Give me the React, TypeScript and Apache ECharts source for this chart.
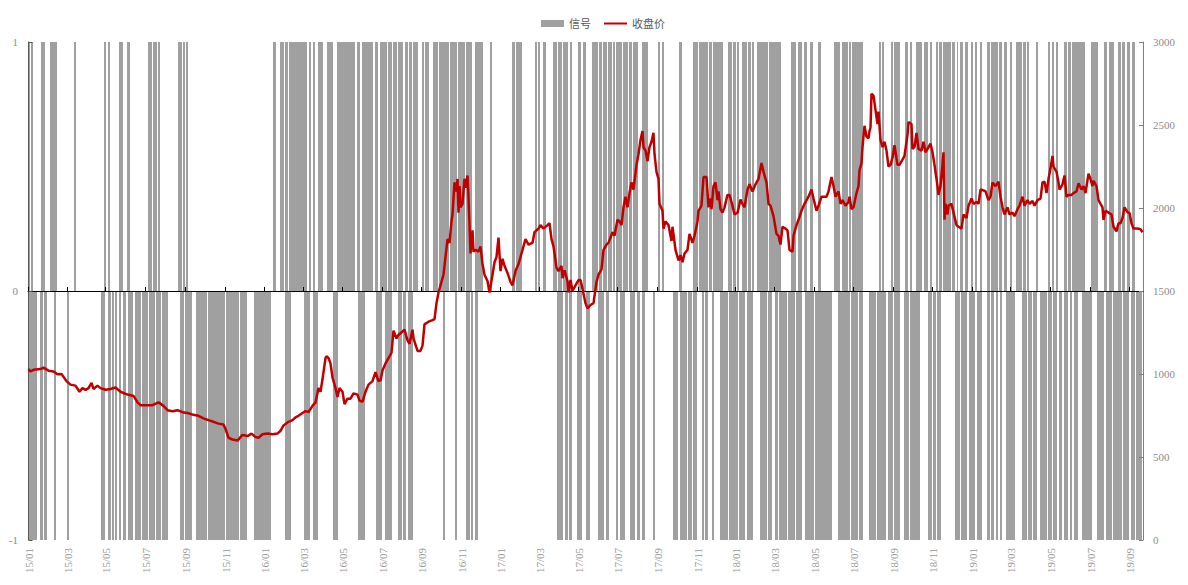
import React, { useEffect, useRef } from "react";
import * as echarts from "echarts";

// ---- data ----
const N_DAYS = 1115; // trading-day index 0..1114 (2015-01 .. 2019-09)

const tickLabels = ["15/01","15/03","15/05","15/07","15/09","15/11","16/01","16/03","16/05","16/07","16/09","16/11","17/01","17/03","17/05","17/07","17/09","17/11","18/01","18/03","18/05","18/07","18/09","18/11","19/01","19/03","19/05","19/07","19/09"];
const tickDays = [0,39,77,117,157,197,236,275,314,354,393,433,472,511,550,589,629,669,707,746,786,825,865,904,944,982,1022,1062,1101];

// signal = +1 runs [startDay, endDay)
const signalUpRuns: number[][] = [[0,2],[3,5],[13,17],[22,29],[46,48],[76,78],[80,82],[91,95],[99,102],[120,124],[125,129],[130,132],[150,154],[155,157],[158,160],[245,248],[252,256],[257,260],[261,279],[281,283],[285,287],[290,295],[299,305],[309,327],[329,332],[334,345],[347,350],[352,359],[360,364],[365,369],[370,375],[377,380],[381,384],[385,390],[394,396],[397,401],[405,410],[411,421],[422,429],[430,437],[438,444],[447,455],[462,464],[484,487],[488,494],[507,509],[510,512],[515,518],[525,529],[530,534],[535,540],[542,544],[550,553],[555,558],[564,570],[571,574],[575,579],[580,584],[585,587],[588,594],[595,600],[601,604],[605,610],[614,620],[630,632],[634,636],[651,654],[665,670],[671,680],[681,684],[685,695],[700,704],[705,708],[709,711],[714,719],[720,723],[724,726],[729,740],[741,753],[763,768],[770,774],[776,779],[782,785],[790,793],[806,812],[814,820],[821,823],[824,835],[851,853],[854,856],[863,865],[866,872],[877,880],[882,884],[888,894],[896,900],[902,904],[908,910],[911,914],[915,923],[924,927],[929,930],[932,935],[937,940],[943,945],[947,949],[952,954],[959,962],[963,970],[971,974],[976,979],[982,984],[988,994],[995,998],[999,1001],[1008,1010],[1020,1022],[1024,1026],[1028,1030],[1036,1039],[1040,1043],[1044,1057],[1063,1070],[1076,1079],[1081,1086],[1090,1093],[1094,1097],[1099,1102],[1104,1107]];

// signal = -1 runs [startDay, endDay)
const signalDownRuns: number[][] = [[0,9],[12,15],[16,19],[26,28],[39,41],[73,77],[80,83],[84,86],[87,89],[91,93],[95,98],[100,105],[107,113],[114,120],[121,127],[128,133],[134,140],[152,156],[157,164],[168,179],[180,197],[198,211],[212,219],[226,243],[257,263],[276,282],[285,290],[305,310],[330,337],[348,354],[357,364],[370,374],[375,378],[380,385],[415,417],[427,429],[438,442],[443,445],[447,450],[529,535],[537,540],[541,544],[549,554],[558,562],[570,576],[578,581],[588,590],[592,597],[602,607],[609,612],[614,617],[625,627],[645,650],[652,659],[660,664],[665,669],[674,676],[677,680],[684,686],[692,700],[701,710],[711,717],[719,725],[732,739],[740,744],[747,750],[751,759],[760,767],[768,774],[777,786],[787,804],[810,822],[823,830],[831,835],[841,848],[849,858],[860,865],[866,872],[876,881],[882,892],[900,904],[905,908],[909,913],[927,932],[933,939],[941,947],[949,954],[959,962],[963,966],[968,970],[972,974],[978,987],[994,999],[1000,1004],[1005,1009],[1012,1019],[1020,1024],[1025,1029],[1031,1034],[1036,1040],[1042,1044],[1046,1050],[1054,1064],[1069,1076],[1078,1084],[1085,1094],[1095,1101],[1103,1107],[1108,1114]];

// closing price (day index, value)
const priceDay = [0,2,5,12,15,20,25,29,33,38,42,47,51,54,57,60,63,65,69,72,77,82,87,92,99,105,109,112,119,124,130,135,139,144,149,154,159,165,170,175,180,185,190,195,197,200,204,209,214,219,223,227,230,234,239,244,249,252,255,260,264,267,270,274,277,280,284,287,290,292,294,297,298,300,302,304,307,309,311,314,316,319,322,325,329,331,334,337,340,344,347,350,352,354,357,360,363,365,368,370,374,376,379,381,384,385,389,392,394,396,400,404,406,408,410,414,415,417,419,421,423,424,426,428,429,430,431,432,434,436,437,439,440,442,444,445,447,450,452,454,456,459,461,464,466,468,470,472,474,476,479,482,484,487,490,492,494,497,500,504,506,510,512,515,519,521,523,525,528,530,533,534,536,539,540,542,544,547,550,552,554,557,559,562,565,568,570,573,575,578,580,584,586,589,591,593,595,597,599,601,603,605,608,610,612,614,615,617,619,621,623,625,626,628,630,631,634,635,637,640,643,644,647,650,652,654,656,659,661,664,666,669,670,673,675,678,680,682,683,685,687,689,690,692,694,696,699,701,704,706,709,712,714,716,719,721,724,727,730,733,735,738,740,742,745,748,750,752,754,757,759,761,764,765,768,770,773,776,780,783,785,788,790,793,795,798,800,803,805,807,810,812,814,817,820,821,823,825,828,830,831,833,834,836,838,840,841,842,843,845,847,849,850,852,854,856,858,860,862,864,866,869,871,874,876,879,880,883,884,886,888,890,893,895,897,900,902,904,906,909,910,912,914,915,916,917,919,920,923,925,928,930,933,935,938,940,943,945,948,950,952,955,957,960,962,964,967,970,972,974,976,979,981,984,986,989,991,994,996,999,1001,1004,1006,1009,1012,1014,1016,1018,1020,1022,1024,1025,1028,1030,1031,1033,1034,1036,1038,1040,1043,1045,1048,1050,1053,1055,1057,1060,1062,1064,1065,1068,1070,1072,1074,1075,1077,1080,1083,1085,1088,1090,1092,1094,1096,1099,1101,1103,1105,1109,1112,1114];
const priceValue = [1030,1015,1025,1030,1038,1020,1015,998,1000,957,936,930,893,915,904,915,947,910,930,915,905,910,919,893,876,868,829,812,812,812,829,808,782,776,782,770,765,754,748,733,722,712,701,696,669,616,605,599,633,626,641,620,616,637,641,637,641,658,690,712,722,739,748,765,776,770,808,829,915,893,968,1096,1107,1096,1064,979,915,861,915,893,819,851,851,883,876,840,833,893,936,957,1011,957,962,1021,1064,1096,1128,1261,1214,1235,1256,1267,1203,1182,1267,1214,1139,1139,1171,1299,1315,1325,1331,1427,1491,1577,1598,1705,1812,1790,1919,1961,2154,2100,2175,1972,2132,2004,2025,2175,2122,2196,2068,1726,1865,1737,1748,1737,1769,1662,1598,1560,1490,1598,1673,1705,1822,1620,1694,1652,1609,1555,1534,1620,1662,1705,1748,1812,1780,1790,1854,1876,1897,1876,1897,1908,1812,1769,1641,1620,1652,1577,1624,1560,1491,1566,1502,1534,1566,1566,1513,1427,1395,1416,1427,1555,1598,1630,1748,1780,1790,1854,1833,1929,1919,1897,2004,2068,2004,2090,2154,2111,2260,2324,2410,2463,2367,2346,2282,2367,2399,2453,2324,2218,2175,2025,1983,1876,1919,1897,1801,1887,1748,1684,1716,1673,1726,1748,1844,1790,1833,1919,1983,2014,2186,2186,2004,2057,1993,2132,2154,2047,2100,1993,1972,2004,2079,2079,2014,1961,1972,2051,2025,2004,2111,2143,2100,2143,2175,2271,2218,2154,2025,2014,1951,1844,1833,1780,1887,1876,1865,1748,1737,1833,1897,1929,1983,2025,2068,2111,2057,1983,2014,2068,2068,2068,2100,2186,2132,2068,2100,2025,2047,2014,2036,2068,1993,2004,2090,2132,2228,2271,2367,2495,2431,2420,2463,2485,2688,2677,2591,2506,2581,2410,2367,2399,2346,2250,2260,2303,2378,2260,2260,2292,2314,2442,2517,2506,2356,2367,2453,2356,2346,2399,2335,2367,2388,2335,2260,2132,2079,2132,2260,2335,1929,2025,1961,2014,2025,1972,1897,1887,1876,1961,1940,2014,2057,2025,2036,2025,2111,2106,2100,2047,2068,2154,2132,2158,2068,2004,1961,2004,1961,1972,1951,1993,2014,2068,2014,2047,2025,2042,2014,2047,2057,2154,2158,2090,2175,2239,2314,2250,2218,2154,2111,2132,2143,2196,2068,2079,2079,2090,2100,2149,2111,2132,2090,2207,2175,2132,2164,2132,2047,2025,2004,1929,1983,1972,1961,1887,1859,1908,1908,1940,2004,1975,1970,1908,1876,1876,1872,1854];

// ---- helpers ----
function expandRuns(runs: number[][], v: number) {
  const arr: (number | string)[] = new Array(N_DAYS).fill("-");
  runs.forEach(([s, e]) => {
    for (let i = s; i < e && i < N_DAYS; i++) arr[i] = v;
  });
  return arr;
}

const tickSet = new Set(tickDays);
const categories = Array.from({ length: N_DAYS }, (_, i) => "d" + i);
const labelOf = (i: number) => {
  const k = tickDays.indexOf(i);
  return k >= 0 ? tickLabels[k] : "";
};

const SERIF = "'Liberation Serif', 'Times New Roman', 'Noto Sans CJK SC', serif";
const X_TXT = "#999999";
const Y_TXT = "#8c8c8c";
const BAR = "#a0a0a0";
const RED = "#c00000";

export default function App() {
  const ref = useRef<HTMLDivElement>(null);
  useEffect(() => {
    if (!ref.current) return;
    const chart = echarts.init(ref.current, undefined, { renderer: "svg" });
    const tickInterval = (index: number) => tickSet.has(index);
    chart.setOption({
      animation: false,
      backgroundColor: "#ffffff",
      legend: {
        top: 13,
        left: 536,
        itemWidth: 23,
        itemHeight: 7,
        itemGap: 12,
        textStyle: { color: "#595959", fontSize: 11, fontFamily: SERIF },
        data: [
          { name: "信号", icon: "rect", itemStyle: { color: BAR } },
          { name: "收盘价", itemStyle: { color: "transparent", borderWidth: 0, opacity: 0 } },
        ],
      },
      grid: { left: 28, right: 45, top: 42, bottom: 45, containLabel: false },
      xAxis: [
        {
          type: "category",
          data: categories,
          position: "bottom",
          boundaryGap: true,
          axisLine: { show: false, onZero: false },
          axisTick: { show: false },
          splitLine: { show: false },
          axisLabel: {
            show: true,
            rotate: 90,
            interval: tickInterval,
            formatter: (_v: string, i: number) => labelOf(i),
            color: X_TXT,
            fontSize: 11,
            fontFamily: SERIF,
            margin: 8,
          },
        },
        {
          type: "category",
          data: categories,
          position: "bottom",
          boundaryGap: true,
          z: 3,
          axisLine: { show: true, onZero: true, onZeroAxisIndex: 0, lineStyle: { color: "#000000", width: 1 } },
          axisTick: {
            show: true,
            inside: true,
            length: 4,
            alignWithLabel: true,
            interval: tickInterval,
            lineStyle: { color: "#000000" },
          },
          axisLabel: { show: false, interval: tickInterval },
          splitLine: { show: false },
        },
        {
          type: "value",
          min: -0.5,
          max: N_DAYS - 0.5,
          show: false,
          splitLine: { show: false },
        },
      ],
      yAxis: [
        {
          type: "value",
          min: -1,
          max: 1,
          interval: 1,
          position: "left",
          z: 3,
          axisLine: { show: true, lineStyle: { color: "#595959" } },
          axisTick: { show: true, inside: true, length: 4, lineStyle: { color: "#595959" } },
          splitLine: { show: false },
          axisLabel: { color: Y_TXT, fontSize: 11, fontFamily: SERIF, margin: 10 },
        },
        {
          type: "value",
          min: 0,
          max: 3000,
          interval: 500,
          position: "right",
          z: 3,
          axisLine: { show: true, lineStyle: { color: "#7f7f7f" } },
          axisTick: { show: true, inside: true, length: 4, lineStyle: { color: "#7f7f7f" } },
          splitLine: { show: false },
          axisLabel: {
            color: Y_TXT,
            fontSize: 11,
            fontFamily: SERIF,
            margin: 10,
            formatter: (v: number) => String(v),
          },
        },
      ],
      series: [
        {
          name: "信号",
          type: "bar",
          xAxisIndex: 0,
          yAxisIndex: 0,
          data: expandRuns(signalUpRuns, 1),
          barCategoryGap: "0%",
          barGap: "-100%",
          itemStyle: { color: BAR },
          silent: true,
          emphasis: { disabled: true },
          z: 1,
        },
        {
          name: "信号",
          type: "bar",
          xAxisIndex: 0,
          yAxisIndex: 0,
          data: expandRuns(signalDownRuns, -1),
          barCategoryGap: "0%",
          barGap: "-100%",
          itemStyle: { color: BAR },
          silent: true,
          emphasis: { disabled: true },
          z: 1,
        },
        {
          name: "收盘价",
          type: "line",
          xAxisIndex: 2,
          yAxisIndex: 1,
          data: priceDay.map((d, i) => [d, priceValue[i]]),
          symbol: "none",
          showSymbol: false,
          lineStyle: { color: RED, width: 2.5 },
          itemStyle: { color: RED },
          silent: true,
          z: 5,
        },
      ],
    });
    return () => chart.dispose();
  }, []);
  return (
    <div
      ref={ref}
      style={{ position: "fixed", left: 0, top: 0, width: 1188, height: 585, background: "#fff" }}
    />
  );
}
